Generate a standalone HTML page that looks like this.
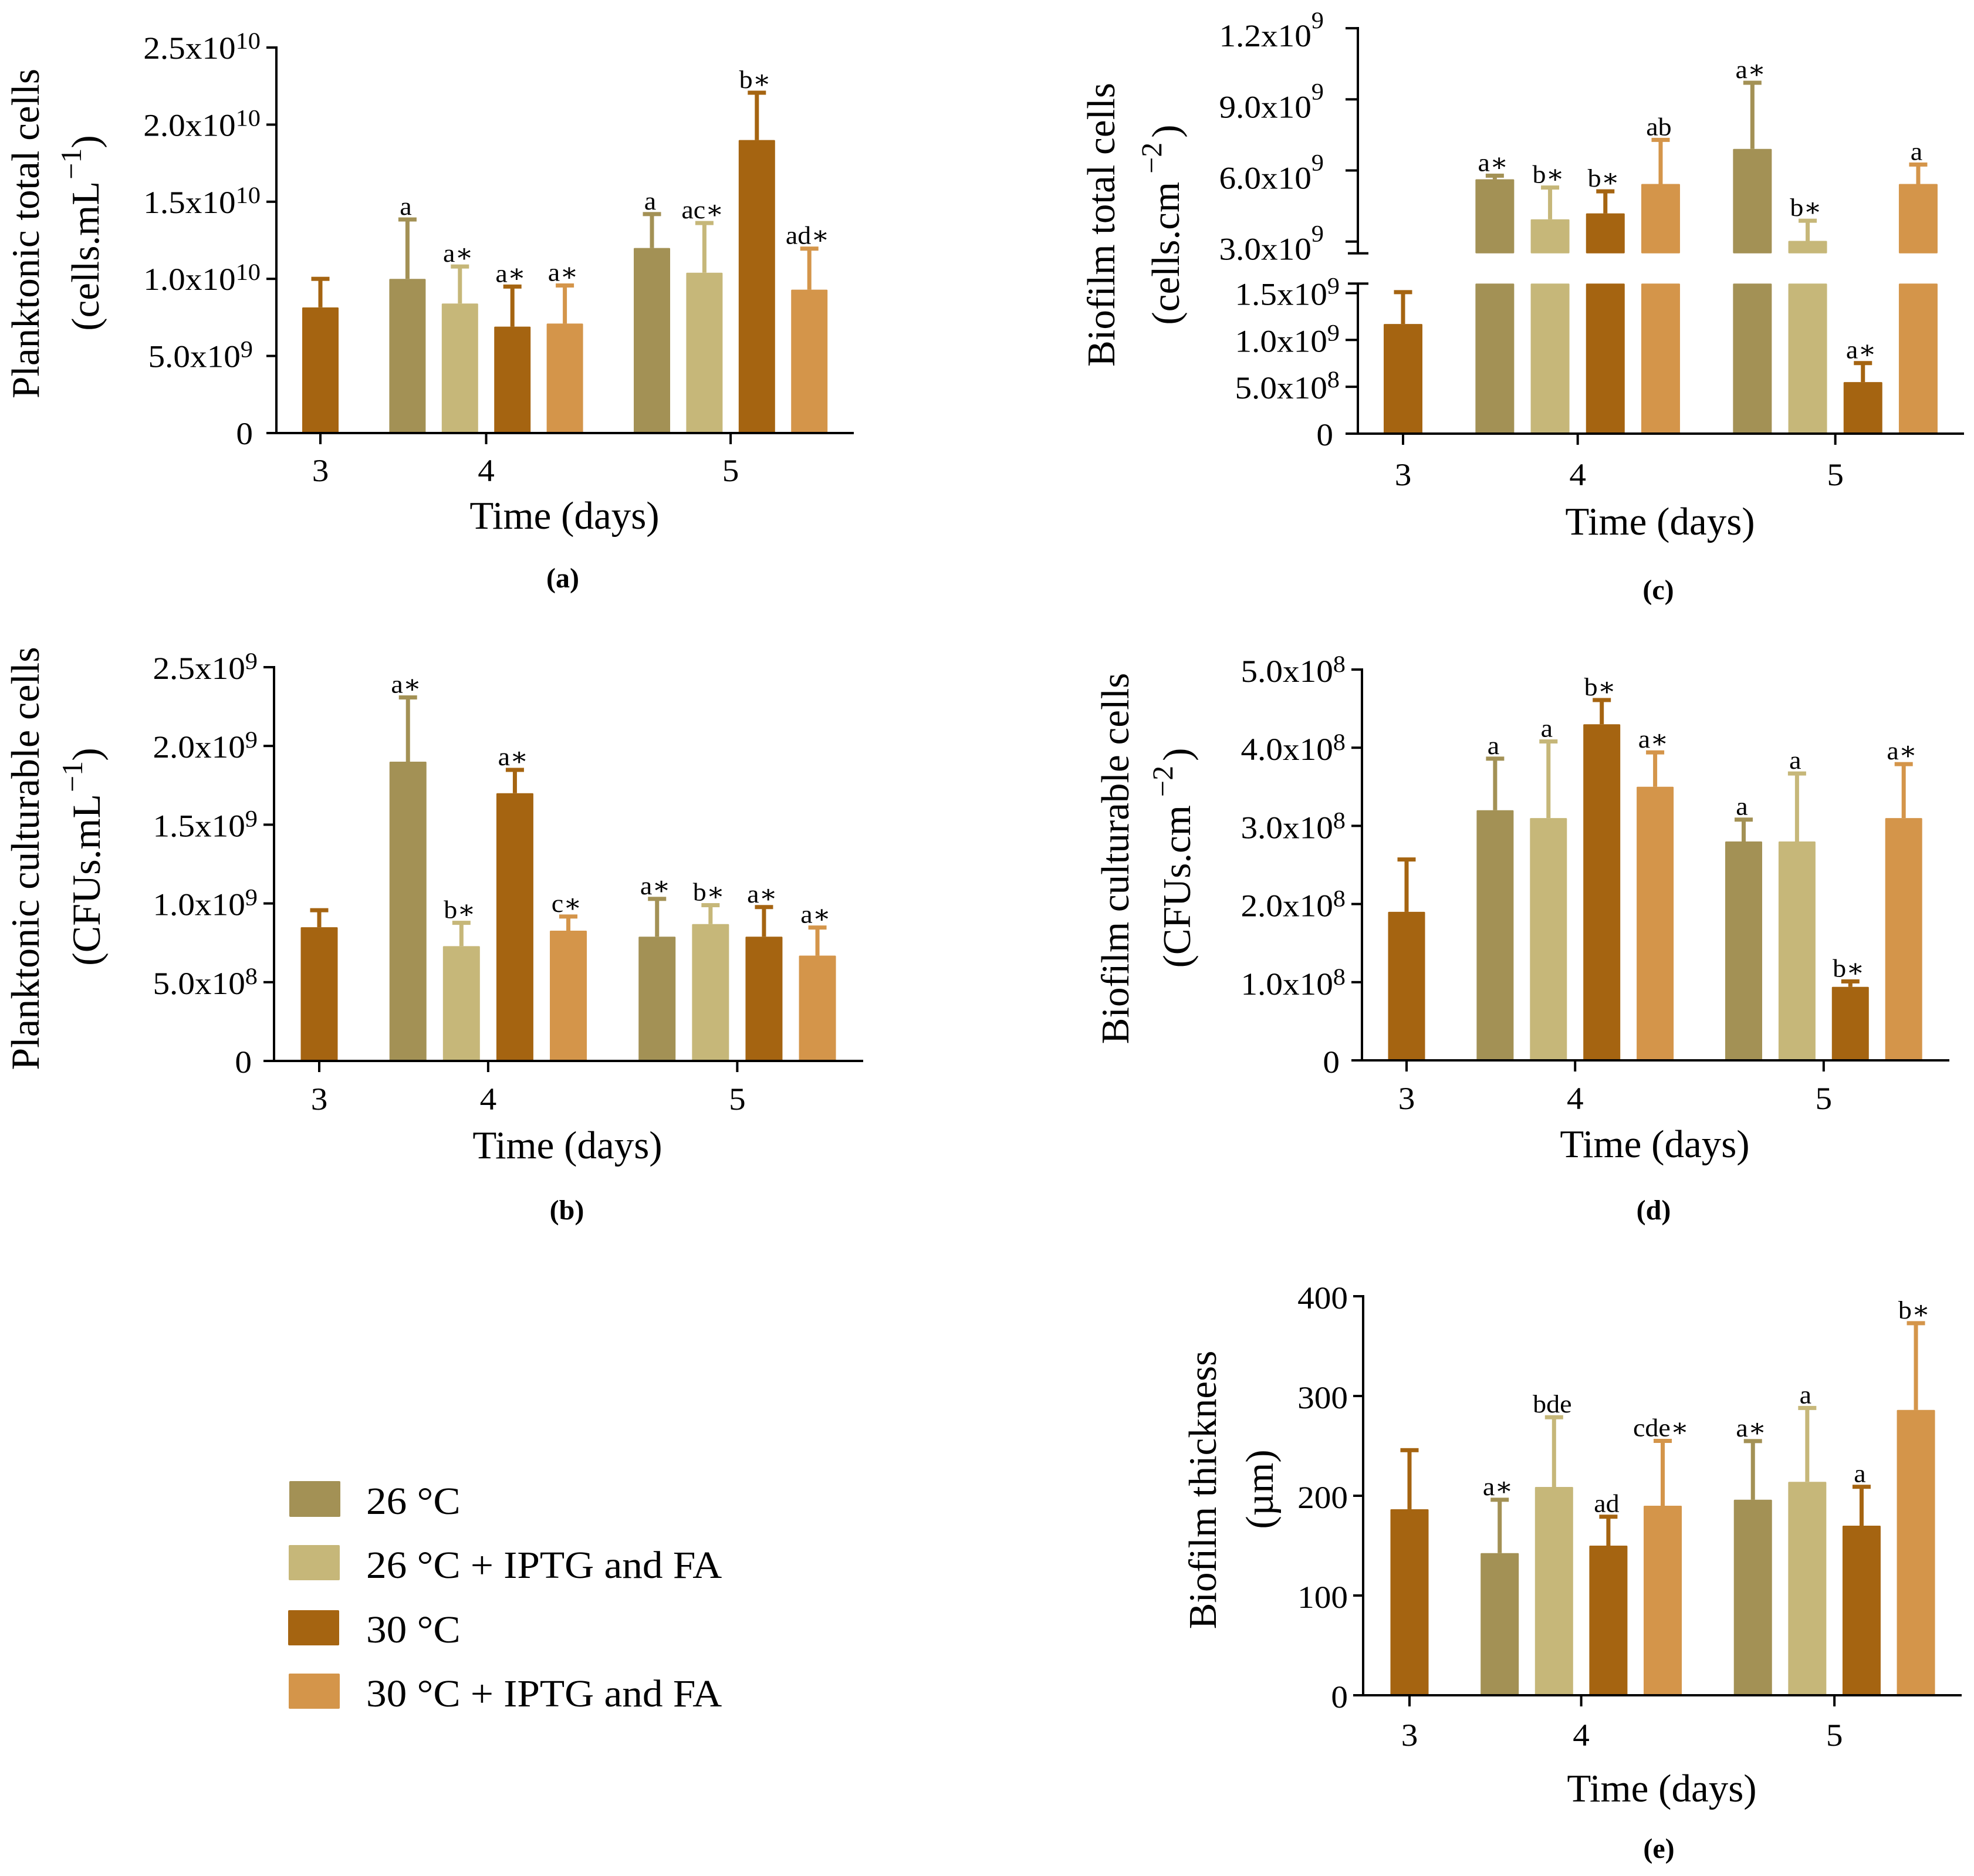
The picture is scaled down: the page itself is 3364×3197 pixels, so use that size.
<!DOCTYPE html>
<html lang="en">
<head>
<meta charset="utf-8">
<title>Planktonic and biofilm cell counts</title>
<style>
html,body{margin:0;padding:0;background:#fff}
svg{display:block}
text{font-family:"Liberation Serif","DejaVu Serif",serif;fill:#000}
</style>
</head>
<body>
<svg id="figure" xmlns="http://www.w3.org/2000/svg" width="3364" height="3197" viewBox="0 0 3364 3197">
<rect width="3364" height="3197" fill="#fff"/>

<g font-size="67">
<text transform="translate(66,398) rotate(-90)" text-anchor="middle">Planktonic total cells</text>
<text transform="translate(168,397) rotate(-90)" text-anchor="middle">(cells.mL<tspan font-size="50" dy="-30" dx="3">−1</tspan><tspan dy="30">)</tspan></text>
<text x="962" y="901" text-anchor="middle">Time (days)</text>
<text x="959" y="1001" text-anchor="middle" font-size="48" font-weight="bold">(a)</text>
</g>

<g font-size="68">
<text transform="translate(66,1463) rotate(-90)" text-anchor="middle">Planktonic culturable cells</text>
<text transform="translate(170,1460) rotate(-90)" text-anchor="middle">(CFUs.mL<tspan font-size="50" dy="-30" dx="3">−1</tspan><tspan dy="30">)</tspan></text>
<text x="967" y="1974" text-anchor="middle" font-size="67">Time (days)</text>
<text x="966" y="2078" text-anchor="middle" font-size="48" font-weight="bold">(b)</text>
</g>

<g font-size="67">
<text transform="translate(1899,383) rotate(-90)" text-anchor="middle">Biofilm total cells</text>
<text transform="translate(2009,383) rotate(-90)" text-anchor="middle">(cells.cm<tspan font-size="50" dy="-30" dx="14">−2</tspan><tspan dy="30" dx="8">)</tspan></text>
<text x="2829" y="911" text-anchor="middle">Time (days)</text>
<text x="2826" y="1021" text-anchor="middle" font-size="48" font-weight="bold">(c)</text>
</g>

<g font-size="67">
<text transform="translate(1923,1463) rotate(-90)" text-anchor="middle">Biofilm culturable cells</text>
<text transform="translate(2028,1462) rotate(-90)" text-anchor="middle">(CFUs.cm<tspan font-size="50" dy="-30" dx="14">−2</tspan><tspan dy="30" dx="8">)</tspan></text>
<text x="2820" y="1972" text-anchor="middle">Time (days)</text>
<text x="2818" y="2078" text-anchor="middle" font-size="48" font-weight="bold">(d)</text>
</g>

<g font-size="67">
<text transform="translate(2072,2539) rotate(-90)" text-anchor="middle">Biofilm thickness</text>
<text transform="translate(2169,2538) rotate(-90)" text-anchor="middle">(µm)</text>
<text x="2832" y="3070" text-anchor="middle">Time (days)</text>
<text x="2827" y="3166" text-anchor="middle" font-size="48" font-weight="bold">(e)</text>
</g>

<g font-size="66">
<rect x="493" y="2524" width="87" height="61" rx="2" fill="#A39155"/>
<text transform="translate(624,2580) scale(1.05,1)">26 °C</text>
<rect x="492" y="2633" width="87" height="60" rx="2" fill="#C6B779"/>
<text transform="translate(624,2689) scale(1.05,1)">26 °C + IPTG and FA</text>
<rect x="491" y="2744" width="87" height="60" rx="2" fill="#A56411"/>
<text transform="translate(624,2799) scale(1.05,1)">30 °C</text>
<rect x="492" y="2852" width="87" height="60" rx="2" fill="#D4954A"/>
<text transform="translate(624,2908) scale(1.05,1)">30 °C + IPTG and FA</text>
</g>

<g id="plots"></g>
</svg>

<script>
// Shared categories
const days = ['3', '4', '5'];
const seriesKeys = ['26c', '26c-iptg-fa', '30c', '30c-iptg-fa'];
const seriesColors = ['#A39155', '#C6B779', '#A56411', '#D4954A'];
const barDay = [0, 1, 1, 1, 1, 2, 2, 2, 2];
const barSeries = [2, 0, 1, 2, 3, 0, 1, 2, 3];

// Panel a: planktonic total cells
const aValues = [8.15e9, 1.0e10, 8.4e9, 6.9e9, 7.1e9, 1.2e10, 1.04e10, 1.9e10, 9.3e9];
const aErrorTops = [1.0e10, 1.385e10, 1.08e10, 9.5e9, 9.57e9, 1.42e10, 1.362e10, 2.207e10, 1.196e10];
const aLetters = ['', 'a', 'a∗', 'a∗', 'a∗', 'a', 'ac∗', 'b∗', 'ad∗'];
const aTicks = [0, 5e9, 1e10, 1.5e10, 2e10, 2.5e10];
const aTickLabels = ['0', '5.0x10', '1.0x10', '1.5x10', '2.0x10', '2.5x10'];
const aTickExponents = ['', '9', '10', '10', '10', '10'];

// Panel b: planktonic culturable cells
const bValues = [8.49e8, 1.9e9, 7.29e8, 1.7e9, 8.27e8, 7.89e8, 8.69e8, 7.89e8, 6.69e8];
const bErrorTops = [9.57e8, 2.308e9, 8.77e8, 1.848e9, 9.17e8, 1.029e9, 9.89e8, 9.77e8, 8.47e8];
const bLetters = ['', 'a∗', 'b∗', 'a∗', 'c∗', 'a∗', 'b∗', 'a∗', 'a∗'];
const bTicks = [0, 5e8, 1e9, 1.5e9, 2e9, 2.5e9];
const bTickLabels = ['0', '5.0x10', '1.0x10', '1.5x10', '2.0x10', '2.5x10'];
const bTickExponents = ['', '8', '9', '9', '9', '9'];

// Panel c: biofilm total cells (broken axis)
const cValues = [1.17e9, 5.63e9, 3.94e9, 4.19e9, 5.43e9, 6.91e9, 3.03e9, 5.5e8, 5.43e9];
const cErrorTops = [1.51e9, 5.78e9, 5.28e9, 5.12e9, 7.29e9, 9.7e9, 3.88e9, 7.53e8, 6.25e9];
const cLetters = ['', 'a∗', 'b∗', 'b∗', 'ab', 'a∗', 'b∗', 'a∗', 'a'];
const cTicks = [0, 5e8, 1e9, 1.5e9, 3e9, 6e9, 9e9, 1.2e10];
const cTickLabels = ['0', '5.0x10', '1.0x10', '1.5x10', '3.0x10', '6.0x10', '9.0x10', '1.2x10'];
const cTickExponents = ['', '8', '9', '9', '9', '9', '9', '9'];

// Panel d: biofilm culturable cells
const dValues = [1.9e8, 3.2e8, 3.1e8, 4.3e8, 3.5e8, 2.8e8, 2.8e8, 9.4e7, 3.1e8];
const dErrorTops = [2.57e8, 3.86e8, 4.08e8, 4.61e8, 3.94e8, 3.08e8, 3.67e8, 1.01e8, 3.79e8];
const dLetters = ['', 'a', 'a', 'b∗', 'a∗', 'a', 'a', 'b∗', 'a∗'];
const dTicks = [0, 1e8, 2e8, 3e8, 4e8, 5e8];
const dTickLabels = ['0', '1.0x10', '2.0x10', '3.0x10', '4.0x10', '5.0x10'];
const dTickExponents = ['', '8', '8', '8', '8', '8'];

// Panel e: biofilm thickness
const eValues = [186.5, 142.5, 208.8, 150, 190, 196, 214, 170, 286];
const eErrorTops = [245.7, 196, 278.7, 179, 255, 254.8, 288, 209, 373];
const eLetters = ['', 'a∗', 'bde', 'ad', 'cde∗', 'a∗', 'a', 'a', 'b∗'];
const eTicks = [0, 100, 200, 300, 400];
const eTickLabels = ['0', '100', '200', '300', '400'];
const eTickExponents = ['', '', '', '', ''];

const SVGNS = 'http://www.w3.org/2000/svg';
const root = document.getElementById('plots');
const GROUP_GAP = 0.66;

function mk(tag, attrs, parent) {
  const el = document.createElementNS(SVGNS, tag);
  for (const k in attrs) el.setAttribute(k, attrs[k]);
  parent.appendChild(el);
  return el;
}

function linearY(y0, yTop, vMax) {
  return v => y0 - (v / vMax) * (y0 - yTop);
}

function bandX(x0, pitch) {
  return i => x0 + pitch * (i + GROUP_GAP * barDay[i]);
}

function drawPanel(p) {
  const g = mk('g', {}, root);
  
  
  const x = bandX(p.x0, p.pitch);

  // bars
  p.values.forEach((v, i) => {
    const s = barSeries[i];
    const color = seriesColors[s];
    p.barSegments(v).forEach(seg => {
      const bar = mk('rect', {x: x(i) - p.barW / 2, y: seg[0], width: p.barW, height: seg[1] - seg[0], rx: 1.5, fill: color}, g);
      
      
    });
    const top = p.y(p.errorTops[i]);
    const stem = mk('rect', {x: x(i) - 3.5, y: top, width: 7, height: p.y(v) - top, fill: color}, g);
    
    
    const cap = mk('rect', {x: x(i) - 15.5, y: top - 3.5, width: 31, height: 7, fill: color}, g);
    
    
    if (p.letters[i]) {
      const t = mk('text', {transform: 'translate(' + (x(i) - 3) + ',' + (top - 8) + ') scale(1.07,1)', 'text-anchor': 'middle', 'font-size': 43}, g);
      t.textContent = p.letters[i];
      
      
    }
  });

  // y axis
  p.axisSegments.forEach(seg => {
    const line = mk('rect', {x: p.axisX - 2, y: seg[0], width: 4, height: seg[1] - seg[0], fill: '#000'}, g);
    
    
  });
  (p.breakCaps || []).forEach(yb => {
    const c = mk('rect', {x: p.axisX - 17, y: yb - 2, width: 35, height: 4, fill: '#000'}, g);
    
    
  });

  p.ticks.forEach((v, i) => {
    const yy = p.y(v);
    const tick = mk('rect', {x: p.tickLeft, y: yy - 2, width: p.axisX - p.tickLeft, height: 4, fill: '#000'}, g);
    
    
    const st = p.labelStyle(v, p.tickExponents[i]);
    const t = mk('text', {transform: 'translate(' + (p.tickLeft - st.gap) + ',' + (yy + st.drop) + ') scale(1.06,1)', 'text-anchor': 'end', 'font-size': 54}, g);
    t.appendChild(document.createTextNode(p.tickLabels[i]));
    if (p.tickExponents[i]) {
      const sup = mk('tspan', {dy: -st.raise, 'font-size': 40}, t);
      sup.textContent = p.tickExponents[i];
    }
    
    
  });

  // x axis
  const xLine = mk('rect', {x: p.tickLeft, y: p.y0 - 2, width: p.xEnd - p.tickLeft, height: 4, fill: '#000'}, g);
  
  
  days.forEach((d, di) => {
    const idx = barDay.map((b, i) => (b === di ? i : -1)).filter(i => i >= 0);
    const cx = idx.reduce((a, i) => a + x(i), 0) / idx.length;
    const tk = mk('rect', {x: cx - 2, y: p.y0, width: 4, height: 19, fill: '#000'}, g);
    
    
    const lab = mk('text', {transform: 'translate(' + cx + ',' + p.xLabelY + ') scale(1.06,1)', 'text-anchor': 'middle', 'font-size': 54}, g);
    lab.textContent = d;
    
    
  });
}

function simplePanel(id, vals, errs, letters, ticks, labels, exps, cfg) {
  const y = linearY(cfg.y0, cfg.yTop, ticks[ticks.length - 1]);
  drawPanel(Object.assign({
    id: id, values: vals, errorTops: errs, letters: letters, ticks: ticks,
    tickLabels: labels, tickExponents: exps, y: y,
    barSegments: v => [[y(v), cfg.y0]],
    axisSegments: [[cfg.yTop - 2, cfg.y0 + 2]]
  }, cfg));
}

simplePanel('a', aValues, aErrorTops, aLetters, aTicks, aTickLabels, aTickExponents, {
  x0: 546, pitch: 89.4, barW: 62, y0: 738, yTop: 81, axisX: 471, tickLeft: 454, xEnd: 1455, xLabelY: 820,
  labelStyle: (v, e) => ({gap: e === '10' ? 10 : 23, drop: 19, raise: 17})
});
simplePanel('b', bValues, bErrorTops, bLetters, bTicks, bTickLabels, bTickExponents, {
  x0: 544, pitch: 91.1, barW: 63, y0: 1808, yTop: 1137, axisX: 467, tickLeft: 449, xEnd: 1471, xLabelY: 1891,
  labelStyle: (v, e) => ({gap: e ? 10 : 20, drop: 20, raise: 17})
});

// Panel c: two-segment y scale
const cY0 = 739, cLowerPerUnit = 159.7 / 1e9, cUpperAt3 = 411.7, cUpperPerUnit = 40.4 / 1e9;
const cLowBreakPx = 483.3, cHighBreakPx = 431.7;
const cLowerY = v => cY0 - v * cLowerPerUnit;
const cUpperY = v => cUpperAt3 - (v - 3e9) * cUpperPerUnit;
const cYScale = v => (v <= 1.6e9 ? cLowerY(v) : cUpperY(v));
drawPanel({
  id: 'c', values: cValues, errorTops: cErrorTops, letters: cLetters, ticks: cTicks,
  tickLabels: cTickLabels, tickExponents: cTickExponents, y: cYScale,
  barSegments: v => (v <= 1.6e9 ? [[cLowerY(v), cY0]] : [[cUpperY(v), cHighBreakPx], [cLowBreakPx, cY0]]),
  axisSegments: [[46, cHighBreakPx], [cLowBreakPx, cY0 + 2]],
  breakCaps: [cHighBreakPx, cLowBreakPx],
  x0: 2391, pitch: 94.2, barW: 66, y0: cY0, axisX: 2314, tickLeft: 2293, xEnd: 3347, xLabelY: 827,
  labelStyle: (v, e) => (v >= 3e9 ? {gap: 37, drop: 31, raise: 31} : {gap: e ? 10 : 21, drop: 20, raise: 19})
});

simplePanel('d', dValues, dErrorTops, dLetters, dTicks, dTickLabels, dTickExponents, {
  x0: 2397, pitch: 90.9, barW: 63, y0: 1807, yTop: 1141, axisX: 2321, tickLeft: 2303, xEnd: 3322, xLabelY: 1890,
  labelStyle: (v, e) => ({gap: e ? 10 : 20, drop: 21, raise: 17})
});
simplePanel('e', eValues, eErrorTops, eLetters, eTicks, eTickLabels, eTickExponents, {
  x0: 2402, pitch: 92.6, barW: 65, y0: 2889, yTop: 2209, axisX: 2323, tickLeft: 2306, xEnd: 3343, xLabelY: 2975,
  labelStyle: (v, e) => ({gap: 9, drop: 21, raise: 0})
});
</script>
</body>
</html>
